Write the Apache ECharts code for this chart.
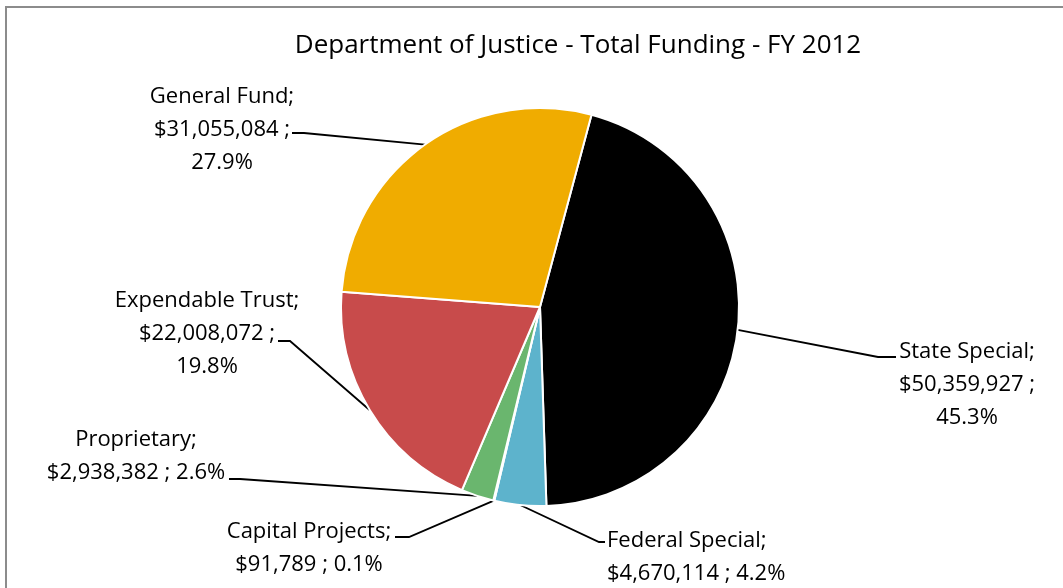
<!DOCTYPE html>
<html>
<head>
<meta charset="utf-8">
<title>Department of Justice - Total Funding - FY 2012</title>
<script src="https://cdn.jsdelivr.net/npm/echarts@6/dist/echarts.min.js"></script>
<style>
  html, body { margin: 0; padding: 0; background: #ffffff; }
  #chart { width: 1063px; height: 588px; }
</style>
</head>
<body>
<div id="chart"></div>
<script>
// Funding sources, in clockwise order starting from State Special
const categories = ['State Special', 'Federal Special', 'Capital Projects', 'Proprietary', 'Expendable Trust', 'General Fund'];
const amounts = [50359927, 4670114, 91789, 2938382, 22008072, 31055084];
const sliceColors = ['#000000', '#5db3cc', '#8064a2', '#6ab66e', '#c84b4b', '#f0ac00'];

// Label placement: text anchor, text alignment and the elbow of each leader line
const labelPlacement = {
  'State Special':    { x: 967, y: 385, align: 'center', bend: [878, 357], end: [896, 357] },
  'Federal Special':  { x: 607, y: 557, align: 'left',   bend: [599, 542], end: [605, 542] },
  'Capital Projects': { x: 309, y: 548, align: 'center', bend: [409, 537], end: [395, 537] },
  'Proprietary':      { x: 136, y: 456, align: 'center', bend: [240, 479], end: [229, 479] },
  'Expendable Trust': { x: 207, y: 334, align: 'center', bend: [290, 341], end: [278, 341] },
  'General Fund':     { x: 222, y: 130, align: 'center', bend: [304, 133], end: [292, 133] }
};
// Labels split over lines the same way as the drawn text
const labelLines = {
  'State Special':    ['{n};', '{v} ;', '{p}'],
  'Federal Special':  ['{n};', '{v} ; {p}'],
  'Capital Projects': ['{n};', '{v} ; {p}'],
  'Proprietary':      ['{n};', '{v} ; {p}'],
  'Expendable Trust': ['{n};', '{v} ;', '{p}'],
  'General Fund':     ['{n};', '{v} ;', '{p}']
};

const total = amounts.reduce((a, b) => a + b, 0);
const fmtMoney = v => '$' + v.toLocaleString('en-US');
const fmtPct = v => (v / total * 100).toFixed(1) + '%';

const chart = echarts.init(document.getElementById('chart'), null, { renderer: 'canvas' });
const FONT = '"Open Sans", "Liberation Sans", Arial, sans-serif';

chart.setOption({
  backgroundColor: '#ffffff',
  animation: false,
  title: {
    text: 'Department of Justice - Total Funding - FY 2012',
    left: 573,
    top: 28,
    textAlign: 'center',
    textStyle: { fontFamily: FONT, fontSize: 26, fontWeight: 'normal', color: '#000000' }
  },
  graphic: [{
    type: 'rect',
    silent: true,
    shape: { x: 6, y: 7, width: 1200, height: 700 },
    style: { fill: 'none', stroke: '#8c8c8c', lineWidth: 2 }
  }],
  series: [{
    type: 'pie',
    center: [540, 307],
    radius: [0, 199],
    startAngle: 75,
    clockwise: true,
    avoidLabelOverlap: false,
    itemStyle: { borderColor: '#ffffff', borderWidth: 2 },
    data: categories.map((name, i) => ({
      name: name,
      value: amounts[i],
      itemStyle: { color: sliceColors[i] }
    })),
    label: {
      show: true,
      position: 'outside',
      fontFamily: FONT,
      fontSize: 22,
      lineHeight: 33,
      color: '#000000',
      formatter: p => labelLines[p.name].map(line =>
        line.replace('{n}', p.name).replace('{v}', fmtMoney(p.value)).replace('{p}', fmtPct(p.value))
      ).join('\n')
    },
    labelLine: {
      show: true,
      length: 20,
      length2: 10,
      lineStyle: { color: '#000000', width: 1.8 }
    },
    labelLayout: function (params) {
      const name = categories[params.dataIndex];
      const place = labelPlacement[name];
      const edge = params.labelLinePoints ? params.labelLinePoints[0] : place.bend;
      return {
        x: place.x,
        y: place.y,
        align: place.align,
        verticalAlign: 'middle',
        labelLinePoints: [edge, place.bend, place.end]
      };
    }
  }]
});
</script>
</body>
</html>
